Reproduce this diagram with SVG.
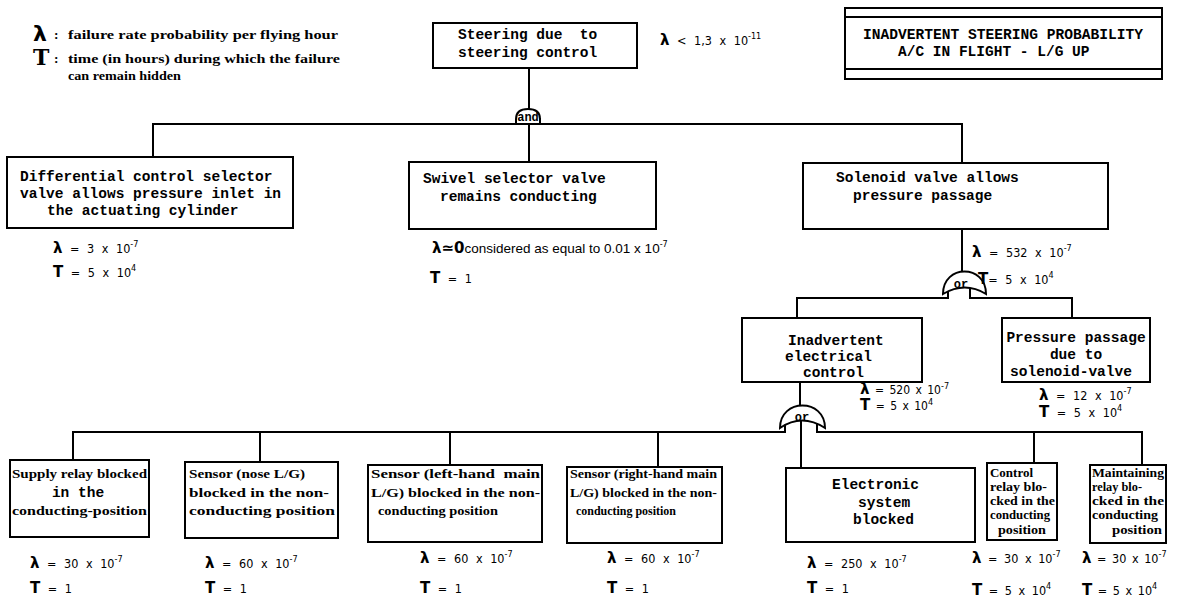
<svg xmlns="http://www.w3.org/2000/svg" width="1179" height="600" viewBox="0 0 1179 600">
<style>
.bg{fill:#fff}
.box{fill:#fff;stroke:#000;stroke-width:2}
.ln{fill:none;stroke:#000;stroke-width:2}
.gate{fill:#fff;stroke:#000;stroke-width:2}
.mono{font-family:"Liberation Mono","DejaVu Sans Mono",monospace;font-weight:bold;font-size:14.5px;fill:#000}
.typ{font-family:"Liberation Serif","DejaVu Serif",serif;font-weight:bold;font-size:13.5px;fill:#000}
.sm{font-size:12.5px}
.lab{font-family:"DejaVu Sans Condensed","Liberation Sans",sans-serif;font-size:12.5px;word-spacing:4px;fill:#000}
.sym{font-family:"DejaVu Sans",sans-serif;font-weight:bold;font-size:15px}
.sup{font-size:9px}
.gt{font-family:"Liberation Mono","DejaVu Sans Mono",monospace;font-weight:bold;font-size:12px;fill:#000}
</style>
<rect class="bg" x="0" y="0" width="1179" height="600"/>

<g id="legend">
<text x="33" y="41" font-family="DejaVu Sans,sans-serif" font-weight="bold" font-size="22">λ</text>
<text class="typ" x="54" y="39">:</text>
<text class="typ" x="68" y="39" textLength="270" lengthAdjust="spacingAndGlyphs">failure rate probability per flying hour</text>
<text x="33" y="65" font-family="DejaVu Serif,serif" font-weight="bold" font-size="22">T</text>
<text class="typ" x="54" y="63">:</text>
<text class="typ" x="68" y="63" textLength="272" lengthAdjust="spacingAndGlyphs">time (in hours) during which the failure</text>
<text class="typ" x="68" y="80" textLength="113" lengthAdjust="spacingAndGlyphs">can remain hidden</text>
</g>

<g id="title">
<rect class="box" x="845" y="8" width="317" height="71"/>
<line class="ln" x1="845" y1="17" x2="1162" y2="17"/>
<line class="ln" x1="845" y1="69" x2="1162" y2="69"/>
<text class="mono" x="863" y="39" textLength="280" lengthAdjust="spacingAndGlyphs">INADVERTENT STEERING PROBABILITY</text>
<text class="mono" x="898" y="56">A/C IN FLIGHT - L/G UP</text>
</g>

<g id="connectors">
<line class="ln" x1="529" y1="68" x2="529" y2="112"/>
<polyline class="ln" points="153,157 153,124 517,124 517,118"/>
<polyline class="ln" points="540,118 540,124 962,124 962,163"/>
<line class="ln" x1="529" y1="122" x2="529" y2="162"/>
<line class="ln" x1="962" y1="229" x2="962" y2="272"/>
<polyline class="ln" points="797,318 797,298 948,298 948,292"/>
<polyline class="ln" points="970,286 970,298 1072,298 1072,318"/>
<line class="ln" x1="800" y1="382" x2="800" y2="406"/>
<polyline class="ln" points="73,460 73,432 785,432 785,424"/>
<line class="ln" x1="260" y1="432" x2="260" y2="462"/>
<line class="ln" x1="450" y1="432" x2="450" y2="465"/>
<line class="ln" x1="658" y1="432" x2="658" y2="467"/>
<polyline class="ln" points="817,424 817,432 1142,432 1142,465"/>
<line class="ln" x1="1034" y1="432" x2="1034" y2="463"/>
<line class="ln" x1="801" y1="420" x2="801" y2="468"/>
</g>

<g id="gate-and">
<path class="gate" d="M516,124 V119 Q516,109 528,109 Q540,109 540,119 V124 Z"/>
<text class="gt" x="528" y="121" text-anchor="middle" font-size="9">and</text>
</g>

<g id="gate-or-1">
<path class="gate" d="M943,294 C943,264 986,264 986,294 Q965,281 943,294 Z"/>
<text class="gt" x="961" y="288" text-anchor="middle">or</text>
</g>

<g id="gate-or-2">
<path class="gate" d="M780,428 C780,398 825,398 825,428 Q802,413 780,428 Z"/>
<text class="gt" x="802" y="421" text-anchor="middle">or</text>
</g>

<g id="n-top">
<rect class="box" x="433" y="23" width="204" height="45"/>
<text class="mono" x="458" y="39" xml:space="preserve">Steering due  to</text>
<text class="mono" x="458" y="57">steering control</text>
<text class="lab" x="660" y="45"><tspan class="sym">λ</tspan> &lt; 1,3 x 10<tspan class="sup" dy="-6">-11</tspan></text>
</g>

<g id="n-differential">
<rect class="box" x="7" y="157" width="286" height="71"/>
<text class="mono" x="20" y="181">Differential control selector</text>
<text class="mono" x="20" y="198">valve allows pressure inlet in</text>
<text class="mono" x="47" y="215">the actuating cylinder</text>
<text class="lab" x="53" y="253"><tspan class="sym">λ</tspan> = 3 x 10<tspan class="sup" dy="-6">-7</tspan></text>
<text class="lab" x="53" y="277"><tspan class="sym">T</tspan> = 5 x 10<tspan class="sup" dy="-6">4</tspan></text>
</g>

<g id="n-swivel">
<rect class="box" x="409" y="162" width="247" height="67"/>
<text class="mono" x="423" y="183">Swivel selector valve</text>
<text class="mono" x="440" y="201">remains conducting</text>
<text class="lab" x="432" y="253" style="word-spacing:0"><tspan class="sym">λ≃</tspan><tspan class="sym" font-size="17">0</tspan><tspan font-family="Liberation Sans,sans-serif" font-size="13.5">considered as equal to 0.01 x 10</tspan><tspan class="sup" dy="-6">-7</tspan></text>
<text class="lab" x="430" y="283"><tspan class="sym">T</tspan> = 1</text>
</g>

<g id="n-solenoid">
<rect class="box" x="803" y="163" width="305" height="66"/>
<text class="mono" x="836" y="182">Solenoid valve allows</text>
<text class="mono" x="853" y="200">pressure passage</text>
<text class="lab" x="972" y="257"><tspan class="sym">λ</tspan> = 532 x 10<tspan class="sup" dy="-6">-7</tspan></text>
<text class="lab" x="978" y="284"><tspan class="sym">T</tspan>= 5 x 10<tspan class="sup" dy="-6">4</tspan></text>
</g>

<g id="n-inadvertent">
<rect class="box" x="742" y="318" width="180" height="64"/>
<text class="mono" x="788" y="345">Inadvertent</text>
<text class="mono" x="785" y="361">electrical</text>
<text class="mono" x="803" y="377">control</text>
<text class="lab" x="860" y="394" style="word-spacing:2px;font-size:12px"><tspan class="sym" font-size="13">λ</tspan> = 520 x 10<tspan class="sup" dy="-5">-7</tspan></text>
<text class="lab" x="860" y="410" style="word-spacing:2px;font-size:12px"><tspan class="sym" font-size="13">T</tspan> = 5 x 10<tspan class="sup" dy="-5">4</tspan></text>
</g>

<g id="n-pressure">
<rect class="box" x="1002" y="318" width="148" height="64"/>
<text class="mono" x="1076" y="342" text-anchor="middle">Pressure passage</text>
<text class="mono" x="1076" y="359" text-anchor="middle">due to</text>
<text class="mono" x="1071" y="376" text-anchor="middle">solenoid-valve</text>
<text class="lab" x="1039" y="400"><tspan class="sym">λ</tspan> = 12 x 10<tspan class="sup" dy="-6">-7</tspan></text>
<text class="lab" x="1039" y="417"><tspan class="sym">T</tspan> = 5 x 10<tspan class="sup" dy="-6">4</tspan></text>
</g>

<g id="n-supply">
<rect class="box" x="10" y="460" width="139" height="77"/>
<text class="typ" x="12" y="478" textLength="135" lengthAdjust="spacingAndGlyphs">Supply relay blocked</text>
<text class="mono" x="78" y="497" text-anchor="middle">in the</text>
<text class="typ" x="12" y="515" textLength="135" lengthAdjust="spacingAndGlyphs">conducting-position</text>
<text class="lab" x="30" y="568"><tspan class="sym">λ</tspan> = 30 x 10<tspan class="sup" dy="-6">-7</tspan></text>
<text class="lab" x="30" y="593"><tspan class="sym">T</tspan> = 1</text>
</g>

<g id="n-nose">
<rect class="box" x="185" y="462" width="153" height="76"/>
<text class="typ" x="189" y="478" textLength="116" lengthAdjust="spacingAndGlyphs">Sensor (nose L/G)</text>
<text class="typ" x="189" y="497" textLength="140" lengthAdjust="spacingAndGlyphs">blocked in the non-</text>
<text class="typ" x="189" y="515" textLength="146" lengthAdjust="spacingAndGlyphs">conducting position</text>
<text class="lab" x="205" y="568"><tspan class="sym">λ</tspan> = 60 x 10<tspan class="sup" dy="-6">-7</tspan></text>
<text class="lab" x="205" y="593"><tspan class="sym">T</tspan> = 1</text>
</g>

<g id="n-left">
<rect class="box" x="368" y="465" width="174" height="77"/>
<text class="typ" x="371" y="478" textLength="169" lengthAdjust="spacingAndGlyphs" xml:space="preserve">Sensor (left-hand  main</text>
<text class="typ" x="371" y="497" textLength="169" lengthAdjust="spacingAndGlyphs">L/G) blocked in the non-</text>
<text class="typ" x="378" y="515" textLength="120" lengthAdjust="spacingAndGlyphs">conducting position</text>
<text class="lab" x="420" y="563"><tspan class="sym">λ</tspan> = 60 x 10<tspan class="sup" dy="-6">-7</tspan></text>
<text class="lab" x="420" y="593"><tspan class="sym">T</tspan> = 1</text>
</g>

<g id="n-right">
<rect class="box" x="567" y="467" width="155" height="76"/>
<text class="typ" x="570" y="478" textLength="147" lengthAdjust="spacingAndGlyphs">Sensor (right-hand main</text>
<text class="typ" x="570" y="497" textLength="147" lengthAdjust="spacingAndGlyphs">L/G) blocked in the non-</text>
<text class="typ" x="576" y="515" textLength="100" lengthAdjust="spacingAndGlyphs">conducting position</text>
<text class="lab" x="607" y="563"><tspan class="sym">λ</tspan> = 60 x 10<tspan class="sup" dy="-6">-7</tspan></text>
<text class="lab" x="607" y="593"><tspan class="sym">T</tspan> = 1</text>
</g>

<g id="n-electronic">
<rect class="box" x="786" y="468" width="189" height="74"/>
<text class="mono" x="832" y="489">Electronic</text>
<text class="mono" x="858" y="507">system</text>
<text class="mono" x="853" y="524">blocked</text>
<text class="lab" x="807" y="568"><tspan class="sym">λ</tspan> = 250 x 10<tspan class="sup" dy="-6">-7</tspan></text>
<text class="lab" x="807" y="593"><tspan class="sym">T</tspan> = 1</text>
</g>

<g id="n-control">
<rect class="box" x="987" y="463" width="70" height="77"/>
<text class="typ sm" x="990" y="477" textLength="43" lengthAdjust="spacingAndGlyphs">Control</text>
<text class="typ sm" x="990" y="491" textLength="57" lengthAdjust="spacingAndGlyphs">relay blo-</text>
<text class="typ sm" x="990" y="505" textLength="65" lengthAdjust="spacingAndGlyphs">cked in the</text>
<text class="typ sm" x="990" y="519" textLength="60" lengthAdjust="spacingAndGlyphs">conducting</text>
<text class="typ sm" x="998" y="534" textLength="48" lengthAdjust="spacingAndGlyphs">position</text>
<text class="lab" x="972" y="563" style="word-spacing:3px"><tspan class="sym">λ</tspan> = 30 x 10<tspan class="sup" dy="-6">-7</tspan></text>
<text class="lab" x="972" y="595" style="word-spacing:3px"><tspan class="sym">T</tspan> = 5 x 10<tspan class="sup" dy="-6">4</tspan></text>
</g>

<g id="n-maintaining">
<rect class="box" x="1090" y="465" width="76" height="78"/>
<text class="typ sm" x="1092" y="477" textLength="72" lengthAdjust="spacingAndGlyphs">Maintaining</text>
<text class="typ sm" x="1092" y="491" textLength="50" lengthAdjust="spacingAndGlyphs">relay blo-</text>
<text class="typ sm" x="1092" y="505" textLength="72" lengthAdjust="spacingAndGlyphs">cked in the</text>
<text class="typ sm" x="1092" y="519" textLength="66" lengthAdjust="spacingAndGlyphs">conducting</text>
<text class="typ sm" x="1112" y="534" textLength="50" lengthAdjust="spacingAndGlyphs">position</text>
<text class="lab" x="1082" y="563" style="word-spacing:2px"><tspan class="sym">λ</tspan> = 30 x 10<tspan class="sup" dy="-6">-7</tspan></text>
<text class="lab" x="1082" y="595" style="word-spacing:2px"><tspan class="sym">T</tspan> = 5 x 10<tspan class="sup" dy="-6">4</tspan></text>
</g>
</svg>
